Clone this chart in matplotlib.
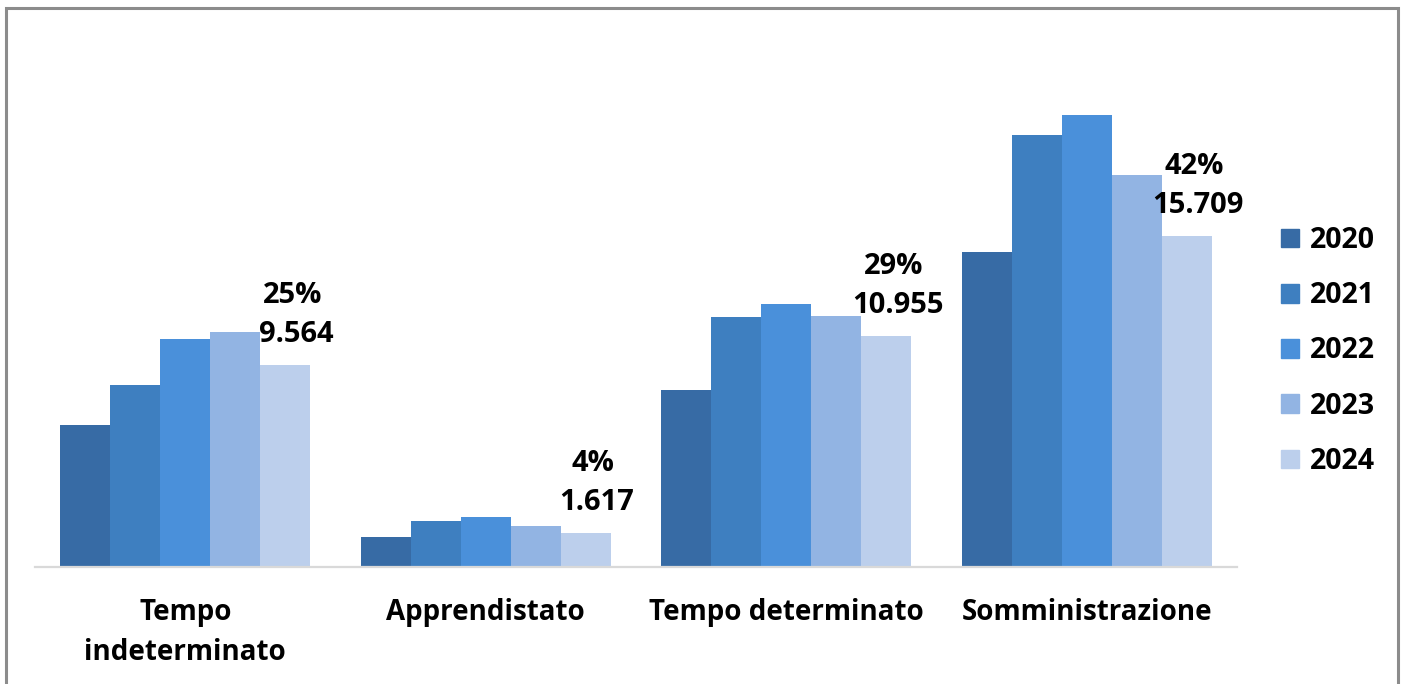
import matplotlib.pyplot as plt
import matplotlib.patches as mpatches
import numpy as np

categories = ["Tempo\nindeterminato", "Apprendistato", "Tempo determinato", "Somministrazione"]
years = ["2020", "2021", "2022", "2023", "2024"]
values = {
    "2020": [6730, 1400, 8400, 14940],
    "2021": [8630, 2200, 11850, 20480],
    "2022": [10810, 2350, 12470, 21460],
    "2023": [11140, 1950, 11900, 18580],
    "2024": [9564, 1617, 10955, 15709],
}
value_labels = ["9.564", "1.617", "10.955", "15.709"]
pct_labels = ["25%", "4%", "29%", "42%"]

COLORS = ["#376ba5", "#3e7fc0", "#4a90da", "#92b4e3", "#bccfec"]
FONT = "Open Sans"

W, H = 1406, 684
fig = plt.figure(figsize=(W / 100, H / 100), dpi=100)

# axes placed in pixel terms: baseline at y=567, x from 35 to 1237
ax = fig.add_axes([35 / W, (H - 567) / H, (1237 - 35) / W, 506 / H])

x = np.arange(len(categories))
width = 1 / 6
for i, year in enumerate(years):
    offs = (i - 2) * width
    ax.bar(x + offs, values[year], width=width, color=COLORS[i], label=year, zorder=2)

# labels on the 2024 bars
for j in range(len(categories)):
    xb = x[j] + 2 * width
    yb = values["2024"][j]
    ax.annotate(value_labels[j], (xb, yb), xytext=(8, 22), textcoords="offset points",
                ha="center", va="center", fontsize=21, fontweight="bold", family=FONT)
    ax.annotate(pct_labels[j], (xb, yb), xytext=(5, 50), textcoords="offset points",
                ha="center", va="center", fontsize=21, fontweight="bold", family=FONT)

ax.set_xlim(-0.5, 3.5)
ax.set_ylim(0, 24000)
ax.set_yticks([])
for s in ["top", "right", "left"]:
    ax.spines[s].set_visible(False)
ax.spines["bottom"].set_color("#d9d9d9")
ax.spines["bottom"].set_linewidth(1.6)
ax.set_xticks(x)
ax.set_xticklabels(categories, fontsize=20, fontweight="bold", family=FONT, linespacing=1.5)
ax.tick_params(axis="x", length=0, pad=22)

# legend with square markers
handles = [mpatches.Patch(color=c, label=y) for c, y in zip(COLORS, years)]
fig.legend(handles=handles, loc="center left", bbox_to_anchor=(1281 / W, 1 - 351 / H),
           frameon=False, borderpad=0, borderaxespad=0, handlelength=0.62, handleheight=0.62,
           handletextpad=0.38, labelspacing=0.92,
           prop={"family": FONT, "weight": "bold", "size": 20.5})

# outer grey frame
frame = mpatches.Rectangle((6 / W, -0.05), (1398 - 6) / W, 1.05 - 8 / H,
                           transform=fig.transFigure, fill=False,
                           edgecolor="#8c8c8c", linewidth=2.2)
fig.patches.append(frame)

plt.savefig("out.png", dpi=100)
